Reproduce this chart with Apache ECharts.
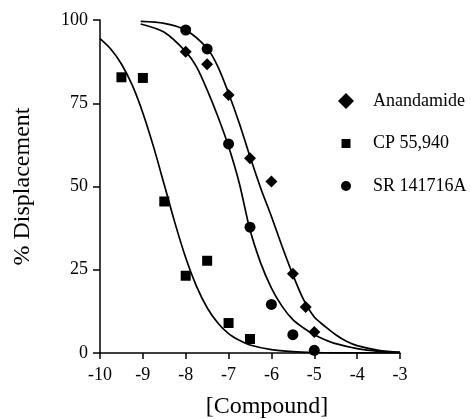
<!DOCTYPE html>
<html>
<head>
<meta charset="utf-8">
<script src="https://cdn.jsdelivr.net/npm/echarts@6/dist/echarts.min.js"></script>
<style>
  html, body { margin: 0; padding: 0; background: #fff; }
  #chart { width: 471px; height: 419px; }
</style>
</head>
<body>
<div id="chart"></div>
<script>
var anandamide = [[-8, 90.5], [-7.5, 86.7], [-7, 77.5], [-6.5, 58.5], [-6, 51.5], [-5.5, 23.8], [-5.2, 13.8], [-5, 6.3]];
var cp55940 = [[-9.5, 82.8], [-9, 82.6], [-8.5, 45.5], [-8, 23.2], [-7.5, 27.7], [-7, 9], [-6.5, 4.2]];
var sr141716a = [[-8, 97], [-7.5, 91.3], [-7, 62.8], [-6.5, 37.8], [-6, 14.6], [-5.5, 5.5], [-5, 0.8]];

// fitted curves
var curveOuter = [[-9.05, 99.6], [-8.5, 99], [-8, 97], [-7.5, 91.5], [-7.25, 86], [-7, 78], [-6.75, 69],
    [-6.5, 59], [-6.25, 49.5], [-6, 41], [-5.75, 32], [-5.5, 23.5], [-5.25, 16], [-5, 10.8], [-4.75, 8],
    [-4.5, 5.5], [-4.25, 3.5], [-4, 2.2], [-3.5, 0.8], [-3, 0.2]];
var curveInner = [[-9.05, 98.8], [-8.5, 96.3], [-8, 90.5], [-7.75, 86], [-7.5, 79], [-7.25, 71], [-7, 62],
    [-6.75, 51], [-6.5, 37], [-6.25, 27], [-6, 19.5], [-5.75, 14], [-5.5, 10], [-5.25, 7.5], [-5, 5.5],
    [-4.75, 4], [-4.5, 2.8], [-4, 1.3], [-3.5, 0.5], [-3, 0.2]];
var curveCP = [[-10, 94.4], [-9.75, 91.3], [-9.5, 86.8], [-9.25, 80.5], [-9, 72.1], [-8.75, 61.9],
    [-8.5, 50.5], [-8.25, 39], [-8, 28.6], [-7.75, 20.1], [-7.5, 13.6], [-7.25, 9], [-7, 5.8],
    [-6.75, 3.8], [-6.5, 2.4], [-6, 1], [-5.5, 0.4], [-5, 0.15], [-4.5, 0.05], [-3, 0]];

var seriesNames = ['Anandamide', 'CP 55,940', 'SR 141716A'];

var font = 'Liberation Serif';

function curve (data) {
    return {
        type: 'line',
        data: data,
        smooth: 0.3,
        showSymbol: false,
        silent: true,
        lineStyle: { color: '#000', width: 1.7 },
        z: 1
    };
}

function points (name, symbol, size, data) {
    return {
        name: name,
        type: 'scatter',
        symbol: symbol,
        symbolSize: size,
        data: data,
        itemStyle: { color: '#000', opacity: 1 },
        z: 3
    };
}

var chart = echarts.init(document.getElementById('chart'));
chart.setOption({
    animation: false,
    backgroundColor: '#fff',
    grid: { left: 100, right: 71, top: 20, bottom: 66, outerBoundsMode: 'none', containLabel: false },
    legend: {
        orient: 'vertical',
        left: 338,
        top: 92,
        padding: 0,
        itemWidth: 44,
        itemHeight: 16,
        itemGap: 24.5,
        // narrow text box so the legend is not pushed back from the right edge
        textStyle: { fontFamily: font, fontSize: 18, color: '#000', width: 70, overflow: 'none' },
        data: [
            { name: seriesNames[0], icon: 'path://M8,0L16,8L8,16L0,8z' },
            { name: seriesNames[1], icon: 'path://M0,0M16,16M3.5,3.5h9v9h-9z' },
            { name: seriesNames[2], icon: 'path://M0,0M16,16M3,8a5,5 0 1,0 10,0a5,5 0 1,0 -10,0z' }
        ]
    },
    xAxis: {
        type: 'value',
        min: -10,
        max: -3,
        interval: 1,
        name: '[Compound]',
        nameLocation: 'middle',
        nameGap: 42,
        nameTextStyle: { fontFamily: font, fontSize: 24, color: '#000', padding: [0, 0, 0, 34] },
        axisLine: { lineStyle: { color: '#000', width: 1.5 } },
        axisTick: { length: 6, lineStyle: { color: '#000', width: 1.5 } },
        axisLabel: { fontFamily: font, fontSize: 18, color: '#000', margin: 13 },
        splitLine: { show: false }
    },
    yAxis: {
        type: 'value',
        min: 0,
        max: 100,
        interval: 25,
        name: '% Displacement',
        nameLocation: 'middle',
        nameRotate: 90,
        nameGap: 65,
        nameTextStyle: { fontFamily: font, fontSize: 24, color: '#000' },
        axisLine: { show: true, lineStyle: { color: '#000', width: 1.5 } },
        axisTick: { show: true, length: 7, lineStyle: { color: '#000', width: 1.5 } },
        axisLabel: { fontFamily: font, fontSize: 18, color: '#000', margin: 12 },
        splitLine: { show: false }
    },
    series: [
        curve(curveOuter),
        curve(curveInner),
        curve(curveCP),
        points(seriesNames[0], 'diamond', 12, anandamide),
        points(seriesNames[1], 'rect', 10, cp55940),
        points(seriesNames[2], 'circle', 11, sr141716a)
    ]
});
</script>
</body>
</html>
